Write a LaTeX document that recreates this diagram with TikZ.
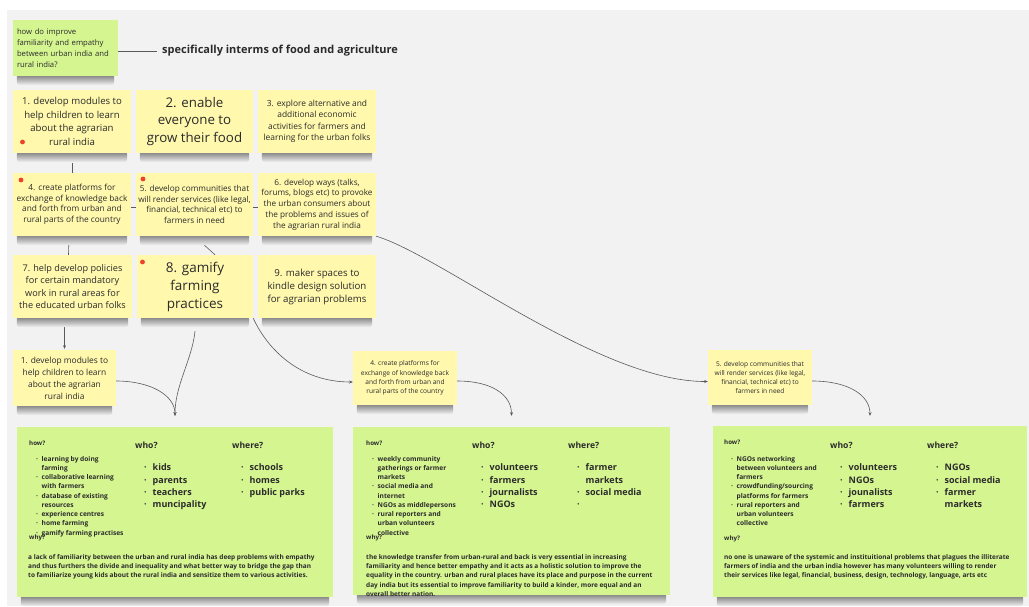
\documentclass[tikz,border=0pt]{standalone}
\usepackage{fontspec}
\setmainfont{Open Sans}
\usetikzlibrary{arrows.meta,calc}

\definecolor{canvas}{HTML}{F2F2F2}
\definecolor{stickyyellow}{HTML}{FFF8AD}
\definecolor{stickygreen}{HTML}{D5F591}
\definecolor{ink}{HTML}{2B2B2B}
\definecolor{wire}{HTML}{5A5A5A}
\definecolor{marker}{HTML}{EE4329}
\definecolor{shadowgray}{HTML}{787878}

% font size helper
\newcommand\fz[2]{\fontsize{#1}{#2}\selectfont}
% stacked rows whose baseline is the first row
\newcommand\rows[1]{\begin{tabular}[t]{@{}l@{}}#1\end{tabular}}
% small bullets (how lists) and large bullets (who / where lists)
\newcommand\hb[1]{\makebox[5.5pt][l]{·}#1}
\newcommand\hc[1]{\hspace*{5.5pt}#1}
\newcommand\wb[1]{\makebox[8.5pt][l]{·}#1}
\newcommand\wc[1]{\hspace*{8.5pt}#1}

\pgfdeclarelayer{canvaslayer}
\pgfdeclarelayer{wires}
\pgfdeclarelayer{shadowlayer}
\pgfsetlayers{canvaslayer,wires,shadowlayer,main}

% soft shadow band under the lower edge of a note
\newcommand\undershadow[1]{%
  \begin{pgfonlayer}{shadowlayer}
    \shade[top color=shadowgray, bottom color=canvas, rounded corners=3pt]
      ($(#1.south west)+(4,-2)$) rectangle ($(#1.south east)+(-4,9)$);
  \end{pgfonlayer}}

\begin{document}
\begin{tikzpicture}[x=1pt,y=-1pt,
  every node/.style={text=ink, inner sep=0pt},
  sticky/.style={fill=stickyyellow, align=center},
  greennote/.style={fill=stickygreen},
  panel/.style={fill=stickygreen},
  wire/.style={draw=wire, line width=0.6pt},
  arr/.style={-{Stealth[length=3.6pt,width=3pt]}},
  head/.style={anchor=base west, font=\bfseries\fz{8.6}{10}},
  small/.style={anchor=base west, font=\bfseries\fz{6.2}{8}},
  howlist/.style={anchor=base west, font=\bfseries\fz{6.6}{9.25}},
  wholist/.style={anchor=base west, font=\bfseries\fz{9}{12.3}},
  whytext/.style={anchor=base west, font=\bfseries\fz{6.5}{9.2}},
]
\useasboundingbox (0,0) rectangle (1029,606);
\begin{pgfonlayer}{canvaslayer}
  \fill[white] (0,0) rectangle (1029,606);
  \fill[canvas] (7,10) rectangle (1029,606);
\end{pgfonlayer}

% question and heading
\node[greennote, minimum width=105, minimum height=56, text width=97, align=left,
      font=\fz{7.7}{10.8}] (q) at (65.5,48)
  {how do improve\\familiarity and empathy\\between urban india and\\rural india?};
\node[anchor=west, inner xsep=5pt, font=\bfseries\fz{11}{13}] (spec) at (157,51)
  {specifically interms of food and agriculture};

% grid of ideas
\node[sticky, minimum width=118, minimum height=63, font=\fz{9.6}{13.6}] (n1) at (72,121.5)
  {1. develop modules to\\help children to learn\\about the agrarian\\rural india};
\node[sticky, minimum width=117, minimum height=63, font=\fz{13.3}{17.5}] (n2) at (194.5,121.5)
  {2. enable\\everyone to\\grow their food};
\node[sticky, minimum width=118, minimum height=63, font=\fz{8.4}{11.4}] (n3) at (317,121.5)
  {3. explore alternative and\\additional economic\\activities for farmers and\\learning for the urban folks};
\node[sticky, minimum width=118, minimum height=63, font=\fz{8.3}{10.5}] (n4) at (72,204.5)
  {4. create platforms for\\exchange of knowledge back\\and forth from urban and\\rural parts of the country};
\node[sticky, minimum width=117, minimum height=63, font=\fz{8.2}{10.5}] (n5) at (194.5,204.5)
  {5. develop communities that\\will render services (like legal,\\financial, technical etc) to\\farmers in need};
\node[sticky, minimum width=118, minimum height=63, font=\fz{8.2}{10.8}] (n6) at (317,204.5)
  {6. develop ways (talks,\\forums, blogs etc) to provoke\\the urban consumers about\\the problems and issues of\\the agrarian rural india};
\node[sticky, minimum width=119, minimum height=63, font=\fz{9.15}{12.5}] (n7) at (72.5,286.5)
  {7. help develop policies\\for certain mandatory\\work in rural areas for\\the educated urban folks};
\node[sticky, minimum width=116, minimum height=63, font=\fz{13.5}{18}] (n8) at (195,286.5)
  {8. gamify\\farming\\practices};
\node[sticky, minimum width=118, minimum height=63, font=\fz{9.7}{13}] (n9) at (317,286.5)
  {9. maker spaces to\\kindle design solution\\for agrarian problems};

% red markers
\fill[marker] (22.5,142) circle[radius=2.4pt];
\fill[marker] (21,180) circle[radius=2.4pt];
\fill[marker] (143,179) circle[radius=2.4pt];
\fill[marker] (142.5,262) circle[radius=2.4pt];

% selected ideas
\node[sticky, minimum width=103, minimum height=56, font=\fz{8.4}{12}] (s1) at (64.5,378)
  {1. develop modules to\\help children to learn\\about the agrarian\\rural india};
\node[sticky, minimum width=104, minimum height=54, font=\fz{6.6}{9.3}] (s4) at (405,378)
  {4. create platforms for\\exchange of knowledge back\\and forth from urban and\\rural parts of the country};
\node[sticky, minimum width=104, minimum height=55, font=\fz{6.6}{9.3}] (s5) at (760,377.5)
  {5. develop communities that\\will render services (like legal,\\financial, technical etc) to\\farmers in need};

% detail panels
\node[panel, minimum width=316, minimum height=170] (p1) at (175,512) {};
\node[panel, minimum width=317, minimum height=168] (p2) at (511.5,511) {};
\node[panel, minimum width=314, minimum height=171] (p3) at (870,511.5) {};

\foreach \n in {q,n1,n2,n3,n4,n5,n6,n7,n8,n9,s1,s4,s5,p1,p2,p3}{\undershadow{\n}}

% panel 1
\node[small] (p1how) at (29,445) {how?};
\node[howlist] (p1howl) at (36,461) {\rows{\hb{learning by doing}\\\hc{farming}\\\hb{collaborative learning}\\\hc{with farmers}\\\hb{database of existing}\\\hc{resources}\\\hb{experience centres}\\\hb{home farming}\\\hb{gamify farming practises}}};
\node[small] (p1why) at (29,539.5) {why?};
\node[whytext] (p1whyt) at (28,559.5) {\rows{a lack of familiarity between the urban and rural india has deep problems with empathy\\and thus furthers the divide and inequality and what better way to bridge the gap than\\to familiarize young kids about the rural india and sensitize them to various activities.}};
\node[head] (p1who) at (135,448) {who?};
\node[wholist] (p1whol) at (144,470.7) {\rows{\wb{kids}\\\wb{parents}\\\wb{teachers}\\\wb{muncipality}}};
\node[head] (p1where) at (232,448) {where?};
\node[wholist] (p1wherel) at (241,470.7) {\rows{\wb{schools}\\\wb{homes}\\\wb{public parks}}};

% panel 2
\node[small] (p2how) at (366,445) {how?};
\node[howlist] (p2howl) at (372,461) {\rows{\hb{weekly community}\\\hc{gatherings or farmer}\\\hc{markets}\\\hb{social media and}\\\hc{internet}\\\hb{NGOs as middlepersons}\\\hb{rural reporters and}\\\hc{urban volunteers}\\\hc{collective}}};
\node[small] (p2why) at (366,539.5) {why?};
\node[whytext] (p2whyt) at (366,559.5) {\rows{the knowledge transfer from urban-rural and back is very essential in increasing\\familiarity and hence better empathy and it acts as a holistic solution to improve the\\equality in the country. urban and rural places have its place and purpose in the current\\day india but its essential to improve familiarity to build a kinder, more equal and an\\overall better nation.}};
\node[head] (p2who) at (472,448) {who?};
\node[wholist] (p2whol) at (481,470.7) {\rows{\wb{volunteers}\\\wb{farmers}\\\wb{journalists}\\\wb{NGOs}}};
\node[head] (p2where) at (568,448) {where?};
\node[wholist] (p2wherel) at (577,470.7) {\rows{\wb{farmer}\\\wc{markets}\\\wb{social media}\\\wb{}}};

% panel 3
\node[small] (p3how) at (724,444.5) {how?};
\node[howlist] (p3howl) at (731,461) {\rows{\hb{NGOs networking}\\\hc{between volunteers and}\\\hc{farmers}\\\hb{crowdfunding/sourcing}\\\hc{platforms for farmers}\\\hb{rural reporters and}\\\hc{urban volunteers}\\\hc{collective}}};
\node[small] (p3why) at (724,540) {why?};
\node[whytext] (p3whyt) at (724,559.5) {\rows{no one is unaware of the systemic and instituitional problems that plagues the illiterate\\farmers of india and the urban india however has many volunteers willing to render\\their services like legal, financial, business, design, technology, language, arts etc}};
\node[head] (p3who) at (830,448) {who?};
\node[wholist] (p3whol) at (840,470.7) {\rows{\wb{volunteers}\\\wb{NGOs}\\\wb{jounalists}\\\wb{farmers}}};
\node[head] (p3where) at (927,448) {where?};
\node[wholist] (p3wherel) at (936,470.7) {\rows{\wb{NGOs}\\\wb{social media}\\\wb{farmer}\\\wc{markets}}};

% connectors, kept beneath the notes
\begin{pgfonlayer}{wires}
  \draw[wire] (q.east |- spec.west) -- (spec.west);
  \draw[wire] ([yshift=-10pt]n1.south) -- (n4.north);
  \draw[wire] ([yshift=-3pt]n4.east) -- ([yshift=-3pt]n5.west);
  \draw[wire] ([yshift=-3pt]n5.east) -- ([yshift=-3pt]n6.west);
  \draw[wire] ([xshift=-3pt]n4.south) -- ([xshift=-4pt]n7.north);
  \draw[wire] (n5.south) -- ([xshift=20pt]n8.north);
  \draw[wire,arr,shorten >=1pt] (s1.north |- n7.south) -- (s1.north);
  \draw[wire,arr] (n6.south east) .. controls (440,255) and (600,382) .. ([yshift=-4pt]s5.west);
  \draw[wire,arr] (n8.south east) .. controls (268,350) and (300,382) .. ([yshift=-4pt]s4.west);
  \draw[wire,arr,shorten >=11pt] ([yshift=-3pt]s1.east) .. controls (150,381) and (175,395) .. (p1.north);
  \draw[wire,arr,shorten >=11pt] ([yshift=-13pt]n8.south) .. controls (192,360) and (175,385) .. (p1.north);
  \draw[wire,arr,shorten >=11pt] ([yshift=-3pt]s4.east) .. controls (492,381) and (511.5,395) .. (p2.north);
  \draw[wire,arr,shorten >=10pt] ([yshift=-3.5pt]s5.east) .. controls (848,381) and (870,395) .. (p3.north);
\end{pgfonlayer}
\end{tikzpicture}
\end{document}
